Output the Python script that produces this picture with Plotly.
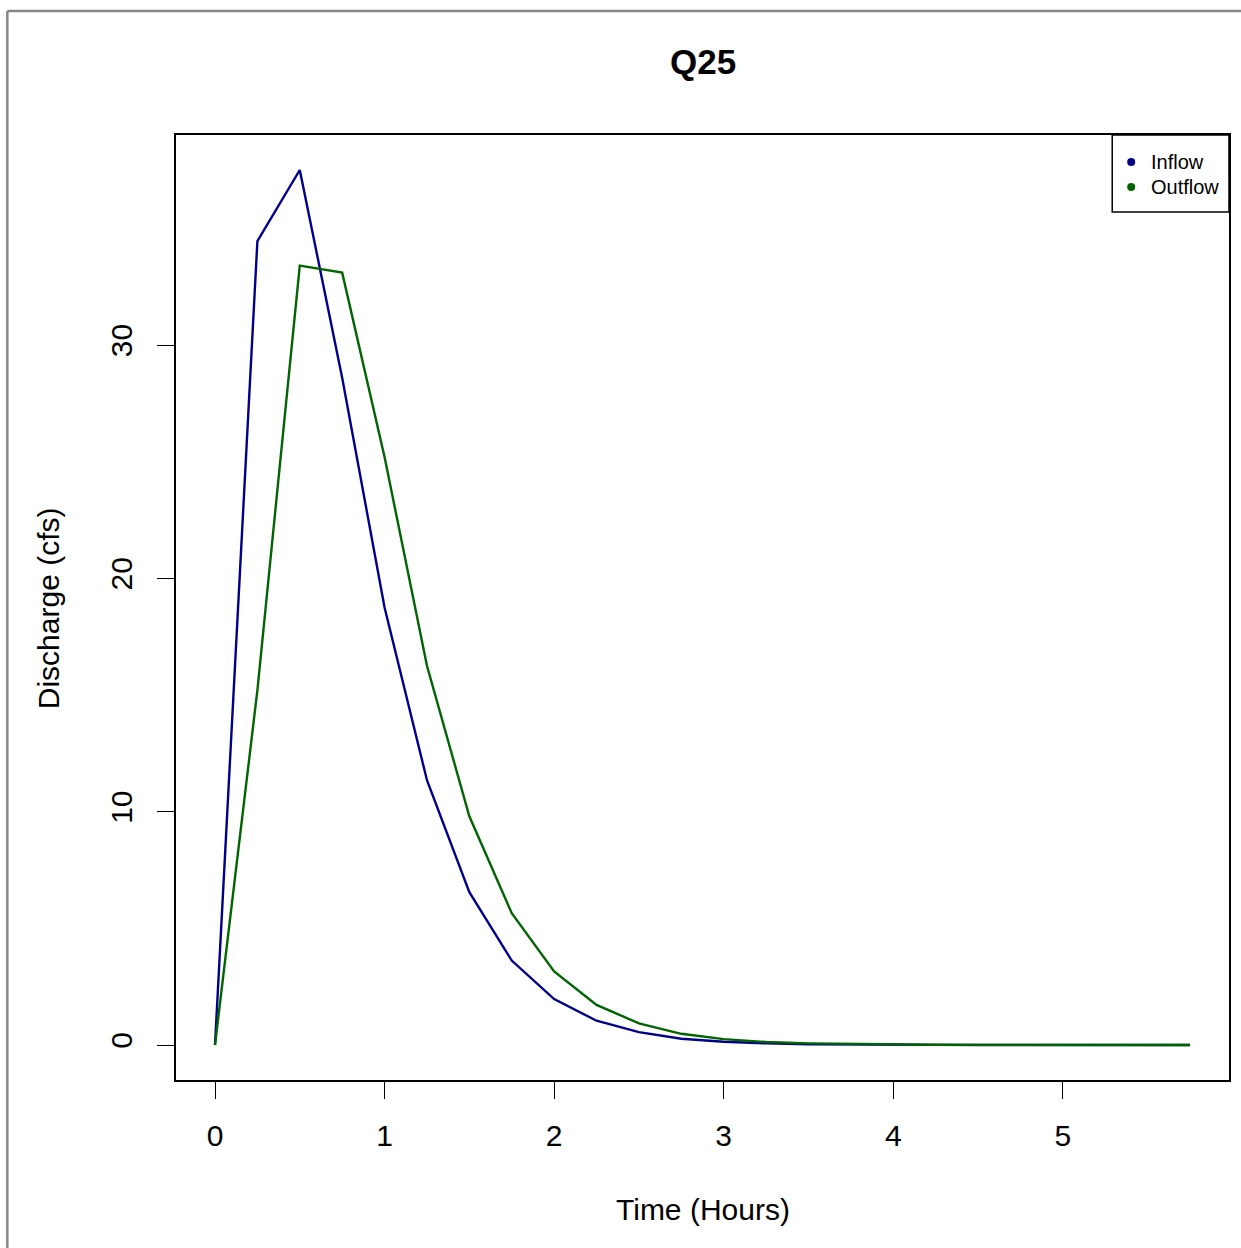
import plotly.graph_objects as go

# Hydrograph data, 15-minute time steps
time_hours = [0.00, 0.25, 0.50, 0.75, 1.00, 1.25, 1.50, 1.75, 2.00, 2.25, 2.50, 2.75,
              3.00, 3.25, 3.50, 3.75, 4.00, 4.25, 4.50, 4.75, 5.00, 5.25, 5.50, 5.75]
inflow = [0.0, 34.45, 37.5, 28.6, 18.75, 11.35, 6.55, 3.62, 1.97, 1.04, 0.55, 0.27,
          0.14, 0.07, 0.035, 0.018, 0.009, 0.005, 0.003, 0.002, 0.001, 0.0, 0.0, 0.0]
outflow = [0.0, 15.2, 33.4, 33.1, 25.2, 16.25, 9.8, 5.65, 3.15, 1.72, 0.93, 0.48,
           0.25, 0.13, 0.07, 0.04, 0.02, 0.01, 0.006, 0.003, 0.002, 0.001, 0.0, 0.0]

x_ticks = [0, 1, 2, 3, 4, 5]
y_ticks = [0, 10, 20, 30]
series_names = ["Inflow", "Outflow"]
series_colors = ["#00008B", "#006400"]

FONT = "Liberation Sans, Arial, Helvetica, sans-serif"
W, H = 1241, 1248
L, R, T, B = 176, 10, 135, 168
PW, PH = W - L - R, H - T - B


def px_x(p):
    return (p - L) / PW


def px_y(p):
    return (H - B - p) / PH


fig = go.Figure()
for name, vals, col in zip(series_names, [inflow, outflow], series_colors):
    fig.add_trace(go.Scatter(x=time_hours, y=vals, mode="lines", name=name,
                             line=dict(color=col, width=2.4), showlegend=False))

xmin, xmax = min(time_hours), max(time_hours)
ymax = max(max(inflow), max(outflow))
xpad = 0.04 * (xmax - xmin)
ypad = 0.04 * ymax

axis_common = dict(showgrid=False, zeroline=False, showline=True, linecolor="black",
                   linewidth=1.5, mirror=True, ticks="outside", ticklen=17,
                   tickwidth=1, tickcolor="black",
                   tickfont=dict(family=FONT, size=30, color="black"))

fig.update_xaxes(range=[xmin - xpad, xmax + xpad], tickvals=x_ticks,
                 ticktext=[str(v) for v in x_ticks], ticklabelstandoff=11, **axis_common)
fig.update_yaxes(range=[-ypad, ymax + ypad], tickvals=y_ticks,
                 ticktext=[str(v) for v in y_ticks], tickangle=-90,
                 ticklabelstandoff=13, **axis_common)

shapes = [
    # outer frame lines
    dict(type="line", xref="paper", yref="paper", x0=px_x(7), x1=px_x(7),
         y0=px_y(11), y1=px_y(H + 5), line=dict(color="#888888", width=2.5)),
    dict(type="line", xref="paper", yref="paper", x0=px_x(7), x1=px_x(W + 5),
         y0=px_y(11), y1=px_y(11), line=dict(color="#888888", width=2.5)),
    # legend box
    dict(type="rect", xref="paper", yref="paper", x0=px_x(1114), x1=px_x(1231),
         y0=px_y(212), y1=px_y(135), line=dict(color="black", width=1.5),
         fillcolor="white"),
]

annotations = [
    dict(text="<b>Q25</b>", xref="paper", yref="paper", x=0.5, y=px_y(62),
         showarrow=False, font=dict(family=FONT, size=35, color="black"),
         xanchor="center", yanchor="middle"),
    dict(text="Time (Hours)", xref="paper", yref="paper", x=0.5, y=px_y(1209),
         showarrow=False, font=dict(family=FONT, size=30, color="black"),
         xanchor="center", yanchor="middle"),
    dict(text="Discharge (cfs)", xref="paper", yref="paper", x=px_x(48), y=px_y(608),
         showarrow=False, textangle=-90, font=dict(family=FONT, size=30, color="black"),
         xanchor="center", yanchor="middle"),
]

for i, (name, col) in enumerate(zip(series_names, series_colors)):
    cy = 162 + 25 * i
    shapes.append(dict(type="circle", xref="paper", yref="paper",
                       xsizemode="pixel", ysizemode="pixel",
                       xanchor=px_x(1133), yanchor=px_y(cy),
                       x0=-4, x1=4, y0=-4, y1=4,
                       fillcolor=col, line=dict(color=col, width=0)))
    annotations.append(dict(text=name, xref="paper", yref="paper", x=px_x(1151),
                            y=px_y(cy), showarrow=False, xanchor="left",
                            yanchor="middle",
                            font=dict(family=FONT, size=20, color="black")))

fig.update_layout(width=W, height=H, margin=dict(l=L, r=R, t=T, b=B),
                  paper_bgcolor="white", plot_bgcolor="white",
                  shapes=shapes, annotations=annotations, showlegend=False)

fig.write_html("out.html")
